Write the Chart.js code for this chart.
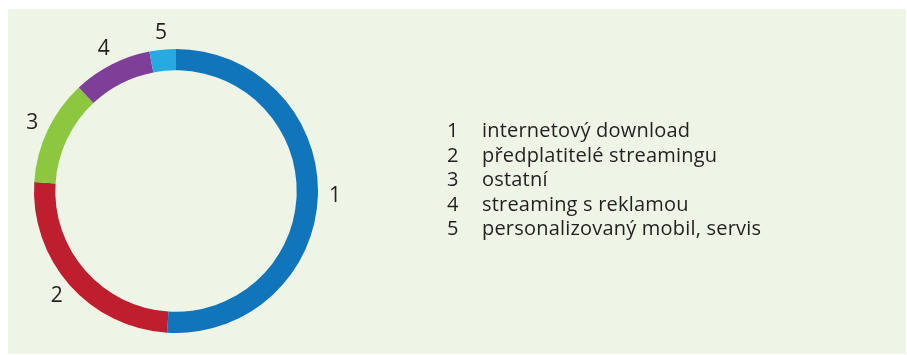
<!DOCTYPE html>
<html lang="cs">

<head>
    <meta charset="UTF-8">
    <title>Podíl příjmů</title>
    <script src="https://cdn.jsdelivr.net/npm/chart.js"></script>
    <style>
        body {
            margin: 0;
            background: #ffffff;
            font-family: "Open Sans", sans-serif;
        }

        .panel {
            position: absolute;
            left: 8px;
            top: 9px;
            width: 898px;
            height: 345px;
            background: #eef4e6;
        }

        #graf {
            position: absolute;
            left: 0;
            top: 0;
        }

        .legenda {
            position: absolute;
            left: 439px;
            top: 109px;
            font-size: 20px;
            letter-spacing: 0.2px;
            line-height: 24.5px;
            color: #231f20;
        }

        .legenda .cislo {
            display: inline-block;
            width: 35px;
        }
    </style>
</head>

<body>
    <div class="panel">
        <canvas id="graf" width="898" height="345"></canvas>
        <div class="legenda" id="legenda"></div>
    </div>

    <script>
        // čísla segmentů a popisky
        const cisla = ['1', '2', '3', '4', '5'];
        const popisky = [
            'internetový download',
            'předplatitelé streamingu',
            'ostatní',
            'streaming s reklamou',
            'personalizovaný mobil, servis'
        ];
        // podíly v procentech
        const hodnoty = [51, 25, 12, 9, 3];
        const barvy = ['#1175bc', '#be1e2d', '#8dc63f', '#7f3f98', '#27aae1'];

        // legenda vpravo
        const legenda = document.getElementById('legenda');
        for (let i = 0; i < cisla.length; i++) {
            const radek = document.createElement('div');
            radek.innerHTML = '<span class="cislo">' + cisla[i] + '</span>' + popisky[i];
            legenda.appendChild(radek);
        }

        // čísla kolem prstence
        const cislaKolem = {
            id: 'cislaKolem',
            afterDatasetsDraw(chart) {
                const ctx = chart.ctx;
                const oblouky = chart.getDatasetMeta(0).data;
                ctx.save();
                ctx.font = '21px "Open Sans", sans-serif';
                ctx.fillStyle = '#231f20';
                ctx.textAlign = 'center';
                ctx.textBaseline = 'middle';
                oblouky.forEach(function (arc, i) {
                    const uhel = (arc.startAngle + arc.endAngle) / 2;
                    const r = arc.outerRadius + 17;
                    ctx.fillText(cisla[i], arc.x + Math.cos(uhel) * r, arc.y + Math.sin(uhel) * r);
                });
                ctx.restore();
            }
        };

        new Chart(document.getElementById('graf'), {
            type: 'doughnut',
            data: {
                labels: popisky,
                datasets: [{
                    data: hodnoty,
                    backgroundColor: barvy,
                    borderWidth: 0,
                    hoverOffset: 0
                }]
            },
            options: {
                responsive: false,
                animation: false,
                events: [],
                cutout: '85%',
                layout: {
                    padding: { left: 26, top: 40, right: 588, bottom: 21 }
                },
                plugins: {
                    legend: { display: false },
                    tooltip: { enabled: false }
                }
            },
            plugins: [cislaKolem]
        });
    </script>
</body>

</html>
